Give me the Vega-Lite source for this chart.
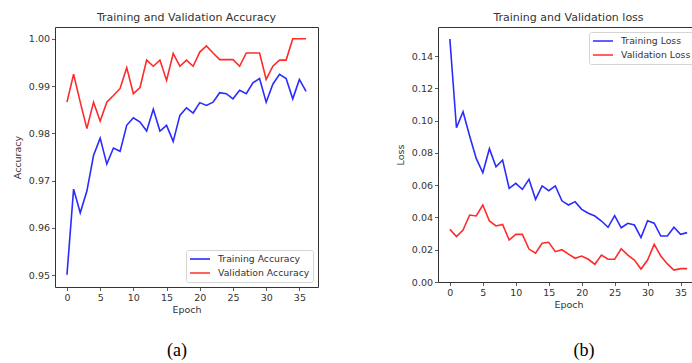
{
  "$schema": "https://vega.github.io/schema/vega-lite/v6.json",
  "padding": {"left": 11, "top": 11, "right": 0, "bottom": 0},
  "background": "white",
  "config": {
    "font": "DejaVu Sans",
    "view": {"stroke": "#333", "strokeWidth": 1},
    "axis": {"domain": false, "grid": false, "tickColor": "#333", "tickSize": 3.5, "tickWidth": 0.8, "labelPadding": 2, "labelFontSize": 9.5, "labelColor": "#333", "titleFontSize": 9.5, "titleFontWeight": "normal", "titleColor": "#333", "labelFont": "DejaVu Sans", "titleFont": "DejaVu Sans"},
    "axisX": {"titlePadding": 2},
    "axisY": {"titlePadding": 6},
    "legend": {"symbolType": "stroke", "symbolSize": 400, "symbolStrokeWidth": 1.6, "labelFontSize": 9.3, "labelColor": "#333", "labelFont": "DejaVu Sans", "labelOffset": 7, "padding": 3, "rowPadding": 2, "clipHeight": 12, "strokeColor": "#d5d5d5", "fillColor": "white", "cornerRadius": 2},
    "title": {"fontSize": 11, "fontWeight": "normal", "color": "#333", "offset": 4, "font": "DejaVu Sans", "frame": "group"},
    "concat": {"spacing": 75}
  },
  "datasets": {
    "acc": [
      {"epoch": 0, "value": 0.9501, "series": "Training Accuracy"},
      {"epoch": 1, "value": 0.9682, "series": "Training Accuracy"},
      {"epoch": 2, "value": 0.9632, "series": "Training Accuracy"},
      {"epoch": 3, "value": 0.9678, "series": "Training Accuracy"},
      {"epoch": 4, "value": 0.9753, "series": "Training Accuracy"},
      {"epoch": 5, "value": 0.979, "series": "Training Accuracy"},
      {"epoch": 6, "value": 0.9735, "series": "Training Accuracy"},
      {"epoch": 7, "value": 0.9769, "series": "Training Accuracy"},
      {"epoch": 8, "value": 0.9762, "series": "Training Accuracy"},
      {"epoch": 9, "value": 0.9817, "series": "Training Accuracy"},
      {"epoch": 10, "value": 0.9833, "series": "Training Accuracy"},
      {"epoch": 11, "value": 0.9824, "series": "Training Accuracy"},
      {"epoch": 12, "value": 0.9805, "series": "Training Accuracy"},
      {"epoch": 13, "value": 0.9851, "series": "Training Accuracy"},
      {"epoch": 14, "value": 0.9805, "series": "Training Accuracy"},
      {"epoch": 15, "value": 0.9817, "series": "Training Accuracy"},
      {"epoch": 16, "value": 0.9783, "series": "Training Accuracy"},
      {"epoch": 17, "value": 0.9838, "series": "Training Accuracy"},
      {"epoch": 18, "value": 0.9854, "series": "Training Accuracy"},
      {"epoch": 19, "value": 0.9843, "series": "Training Accuracy"},
      {"epoch": 20, "value": 0.9865, "series": "Training Accuracy"},
      {"epoch": 21, "value": 0.9859, "series": "Training Accuracy"},
      {"epoch": 22, "value": 0.9866, "series": "Training Accuracy"},
      {"epoch": 23, "value": 0.9886, "series": "Training Accuracy"},
      {"epoch": 24, "value": 0.9884, "series": "Training Accuracy"},
      {"epoch": 25, "value": 0.9873, "series": "Training Accuracy"},
      {"epoch": 26, "value": 0.9891, "series": "Training Accuracy"},
      {"epoch": 27, "value": 0.9884, "series": "Training Accuracy"},
      {"epoch": 28, "value": 0.9907, "series": "Training Accuracy"},
      {"epoch": 29, "value": 0.9916, "series": "Training Accuracy"},
      {"epoch": 30, "value": 0.9866, "series": "Training Accuracy"},
      {"epoch": 31, "value": 0.9904, "series": "Training Accuracy"},
      {"epoch": 32, "value": 0.9925, "series": "Training Accuracy"},
      {"epoch": 33, "value": 0.9916, "series": "Training Accuracy"},
      {"epoch": 34, "value": 0.9873, "series": "Training Accuracy"},
      {"epoch": 35, "value": 0.9914, "series": "Training Accuracy"},
      {"epoch": 36, "value": 0.9889, "series": "Training Accuracy"},
      {"epoch": 0, "value": 0.9866, "series": "Validation Accuracy"},
      {"epoch": 1, "value": 0.9925, "series": "Validation Accuracy"},
      {"epoch": 2, "value": 0.9866, "series": "Validation Accuracy"},
      {"epoch": 3, "value": 0.981, "series": "Validation Accuracy"},
      {"epoch": 4, "value": 0.9866, "series": "Validation Accuracy"},
      {"epoch": 5, "value": 0.9826, "series": "Validation Accuracy"},
      {"epoch": 6, "value": 0.9866, "series": "Validation Accuracy"},
      {"epoch": 7, "value": 0.988, "series": "Validation Accuracy"},
      {"epoch": 8, "value": 0.9895, "series": "Validation Accuracy"},
      {"epoch": 9, "value": 0.9939, "series": "Validation Accuracy"},
      {"epoch": 10, "value": 0.9884, "series": "Validation Accuracy"},
      {"epoch": 11, "value": 0.9897, "series": "Validation Accuracy"},
      {"epoch": 12, "value": 0.9955, "series": "Validation Accuracy"},
      {"epoch": 13, "value": 0.9942, "series": "Validation Accuracy"},
      {"epoch": 14, "value": 0.9955, "series": "Validation Accuracy"},
      {"epoch": 15, "value": 0.9912, "series": "Validation Accuracy"},
      {"epoch": 16, "value": 0.9969, "series": "Validation Accuracy"},
      {"epoch": 17, "value": 0.9942, "series": "Validation Accuracy"},
      {"epoch": 18, "value": 0.9955, "series": "Validation Accuracy"},
      {"epoch": 19, "value": 0.9942, "series": "Validation Accuracy"},
      {"epoch": 20, "value": 0.9972, "series": "Validation Accuracy"},
      {"epoch": 21, "value": 0.9985, "series": "Validation Accuracy"},
      {"epoch": 22, "value": 0.997, "series": "Validation Accuracy"},
      {"epoch": 23, "value": 0.9956, "series": "Validation Accuracy"},
      {"epoch": 24, "value": 0.9956, "series": "Validation Accuracy"},
      {"epoch": 25, "value": 0.9956, "series": "Validation Accuracy"},
      {"epoch": 26, "value": 0.9942, "series": "Validation Accuracy"},
      {"epoch": 27, "value": 0.997, "series": "Validation Accuracy"},
      {"epoch": 28, "value": 0.997, "series": "Validation Accuracy"},
      {"epoch": 29, "value": 0.997, "series": "Validation Accuracy"},
      {"epoch": 30, "value": 0.9914, "series": "Validation Accuracy"},
      {"epoch": 31, "value": 0.9942, "series": "Validation Accuracy"},
      {"epoch": 32, "value": 0.9955, "series": "Validation Accuracy"},
      {"epoch": 33, "value": 0.9955, "series": "Validation Accuracy"},
      {"epoch": 34, "value": 1.0, "series": "Validation Accuracy"},
      {"epoch": 35, "value": 1.0, "series": "Validation Accuracy"},
      {"epoch": 36, "value": 1.0, "series": "Validation Accuracy"}
    ],
    "loss": [
      {"epoch": 0, "value": 0.1506, "series": "Training Loss"},
      {"epoch": 1, "value": 0.0956, "series": "Training Loss"},
      {"epoch": 2, "value": 0.1055, "series": "Training Loss"},
      {"epoch": 3, "value": 0.0905, "series": "Training Loss"},
      {"epoch": 4, "value": 0.0766, "series": "Training Loss"},
      {"epoch": 5, "value": 0.0677, "series": "Training Loss"},
      {"epoch": 6, "value": 0.0826, "series": "Training Loss"},
      {"epoch": 7, "value": 0.0714, "series": "Training Loss"},
      {"epoch": 8, "value": 0.0756, "series": "Training Loss"},
      {"epoch": 9, "value": 0.058, "series": "Training Loss"},
      {"epoch": 10, "value": 0.0611, "series": "Training Loss"},
      {"epoch": 11, "value": 0.0574, "series": "Training Loss"},
      {"epoch": 12, "value": 0.0636, "series": "Training Loss"},
      {"epoch": 13, "value": 0.0512, "series": "Training Loss"},
      {"epoch": 14, "value": 0.0595, "series": "Training Loss"},
      {"epoch": 15, "value": 0.0566, "series": "Training Loss"},
      {"epoch": 16, "value": 0.0595, "series": "Training Loss"},
      {"epoch": 17, "value": 0.0503, "series": "Training Loss"},
      {"epoch": 18, "value": 0.0477, "series": "Training Loss"},
      {"epoch": 19, "value": 0.0498, "series": "Training Loss"},
      {"epoch": 20, "value": 0.045, "series": "Training Loss"},
      {"epoch": 21, "value": 0.0426, "series": "Training Loss"},
      {"epoch": 22, "value": 0.0409, "series": "Training Loss"},
      {"epoch": 23, "value": 0.0378, "series": "Training Loss"},
      {"epoch": 24, "value": 0.0339, "series": "Training Loss"},
      {"epoch": 25, "value": 0.0411, "series": "Training Loss"},
      {"epoch": 26, "value": 0.0336, "series": "Training Loss"},
      {"epoch": 27, "value": 0.0364, "series": "Training Loss"},
      {"epoch": 28, "value": 0.0353, "series": "Training Loss"},
      {"epoch": 29, "value": 0.0275, "series": "Training Loss"},
      {"epoch": 30, "value": 0.038, "series": "Training Loss"},
      {"epoch": 31, "value": 0.0364, "series": "Training Loss"},
      {"epoch": 32, "value": 0.0285, "series": "Training Loss"},
      {"epoch": 33, "value": 0.0285, "series": "Training Loss"},
      {"epoch": 34, "value": 0.0339, "series": "Training Loss"},
      {"epoch": 35, "value": 0.0295, "series": "Training Loss"},
      {"epoch": 36, "value": 0.0306, "series": "Training Loss"},
      {"epoch": 0, "value": 0.0326, "series": "Validation Loss"},
      {"epoch": 1, "value": 0.0281, "series": "Validation Loss"},
      {"epoch": 2, "value": 0.0322, "series": "Validation Loss"},
      {"epoch": 3, "value": 0.0415, "series": "Validation Loss"},
      {"epoch": 4, "value": 0.0409, "series": "Validation Loss"},
      {"epoch": 5, "value": 0.0477, "series": "Validation Loss"},
      {"epoch": 6, "value": 0.0378, "series": "Validation Loss"},
      {"epoch": 7, "value": 0.0347, "series": "Validation Loss"},
      {"epoch": 8, "value": 0.0357, "series": "Validation Loss"},
      {"epoch": 9, "value": 0.026, "series": "Validation Loss"},
      {"epoch": 10, "value": 0.0295, "series": "Validation Loss"},
      {"epoch": 11, "value": 0.0295, "series": "Validation Loss"},
      {"epoch": 12, "value": 0.0204, "series": "Validation Loss"},
      {"epoch": 13, "value": 0.0178, "series": "Validation Loss"},
      {"epoch": 14, "value": 0.024, "series": "Validation Loss"},
      {"epoch": 15, "value": 0.0246, "series": "Validation Loss"},
      {"epoch": 16, "value": 0.0188, "series": "Validation Loss"},
      {"epoch": 17, "value": 0.02, "series": "Validation Loss"},
      {"epoch": 18, "value": 0.0173, "series": "Validation Loss"},
      {"epoch": 19, "value": 0.0147, "series": "Validation Loss"},
      {"epoch": 20, "value": 0.0161, "series": "Validation Loss"},
      {"epoch": 21, "value": 0.0141, "series": "Validation Loss"},
      {"epoch": 22, "value": 0.011, "series": "Validation Loss"},
      {"epoch": 23, "value": 0.0167, "series": "Validation Loss"},
      {"epoch": 24, "value": 0.0141, "series": "Validation Loss"},
      {"epoch": 25, "value": 0.0141, "series": "Validation Loss"},
      {"epoch": 26, "value": 0.0206, "series": "Validation Loss"},
      {"epoch": 27, "value": 0.0167, "series": "Validation Loss"},
      {"epoch": 28, "value": 0.0136, "series": "Validation Loss"},
      {"epoch": 29, "value": 0.008, "series": "Validation Loss"},
      {"epoch": 30, "value": 0.0136, "series": "Validation Loss"},
      {"epoch": 31, "value": 0.0233, "series": "Validation Loss"},
      {"epoch": 32, "value": 0.0161, "series": "Validation Loss"},
      {"epoch": 33, "value": 0.0112, "series": "Validation Loss"},
      {"epoch": 34, "value": 0.0074, "series": "Validation Loss"},
      {"epoch": 35, "value": 0.0083, "series": "Validation Loss"},
      {"epoch": 36, "value": 0.0083, "series": "Validation Loss"}
    ]
  },
  "hconcat": [
    {
      "title": {"text": "(a)", "orient": "bottom", "anchor": "middle", "font": "Liberation Serif", "fontSize": 18, "color": "#000", "offset": 28, "frame": "group", "dx": 122},
      "resolve": {"scale": {"color": "independent"}, "legend": {"color": "independent"}},
      "vconcat": [
        {
          "title": "Training and Validation Accuracy",
          "width": 263,
          "height": 260,
          "data": {"name": "acc"},
          "mark": {"type": "line", "strokeWidth": 1.6},
          "encoding": {
            "x": {"field": "epoch", "type": "quantitative", "scale": {"domain": [-1.8, 37.8], "nice": false, "zero": false}, "axis": {"values": [0, 5, 10, 15, 20, 25, 30, 35], "title": "Epoch"}},
            "y": {"field": "value", "type": "quantitative", "scale": {"domain": [0.9475, 1.0025], "nice": false, "zero": false}, "axis": {"values": [0.95, 0.96, 0.97, 0.98, 0.99, 1.0], "format": ".2f", "title": "Accuracy"}},
            "color": {"field": "series", "type": "nominal", "scale": {"domain": ["Training Accuracy", "Validation Accuracy"], "range": ["#2b2bff", "#ff2b2b"]}, "legend": {"orient": "bottom-right", "offset": 5, "title": null}}
          }
        }
      ]
    },
    {
      "title": {"text": "(b)", "orient": "bottom", "anchor": "middle", "font": "Liberation Serif", "fontSize": 18, "color": "#000", "offset": 33, "frame": "group", "dx": 146},
      "resolve": {"scale": {"color": "independent"}, "legend": {"color": "independent"}},
      "vconcat": [
        {
          "title": "Training and Validation loss",
          "width": 261,
          "height": 255,
          "data": {"name": "loss"},
          "mark": {"type": "line", "strokeWidth": 1.6},
          "encoding": {
            "x": {"field": "epoch", "type": "quantitative", "scale": {"domain": [-1.8, 37.8], "nice": false, "zero": false}, "axis": {"values": [0, 5, 10, 15, 20, 25, 30, 35], "title": "Epoch"}},
            "y": {"field": "value", "type": "quantitative", "scale": {"domain": [0, 0.158], "nice": false, "zero": false}, "axis": {"values": [0, 0.02, 0.04, 0.06, 0.08, 0.1, 0.12, 0.14], "format": ".2f", "title": "Loss"}},
            "color": {"field": "series", "type": "nominal", "scale": {"domain": ["Training Loss", "Validation Loss"], "range": ["#2b2bff", "#ff2b2b"]}, "legend": {"orient": "top-right", "offset": 5, "title": null}}
          }
        }
      ]
    }
  ],
  "resolve": {"scale": {"color": "independent"}, "legend": {"color": "independent"}}
}
